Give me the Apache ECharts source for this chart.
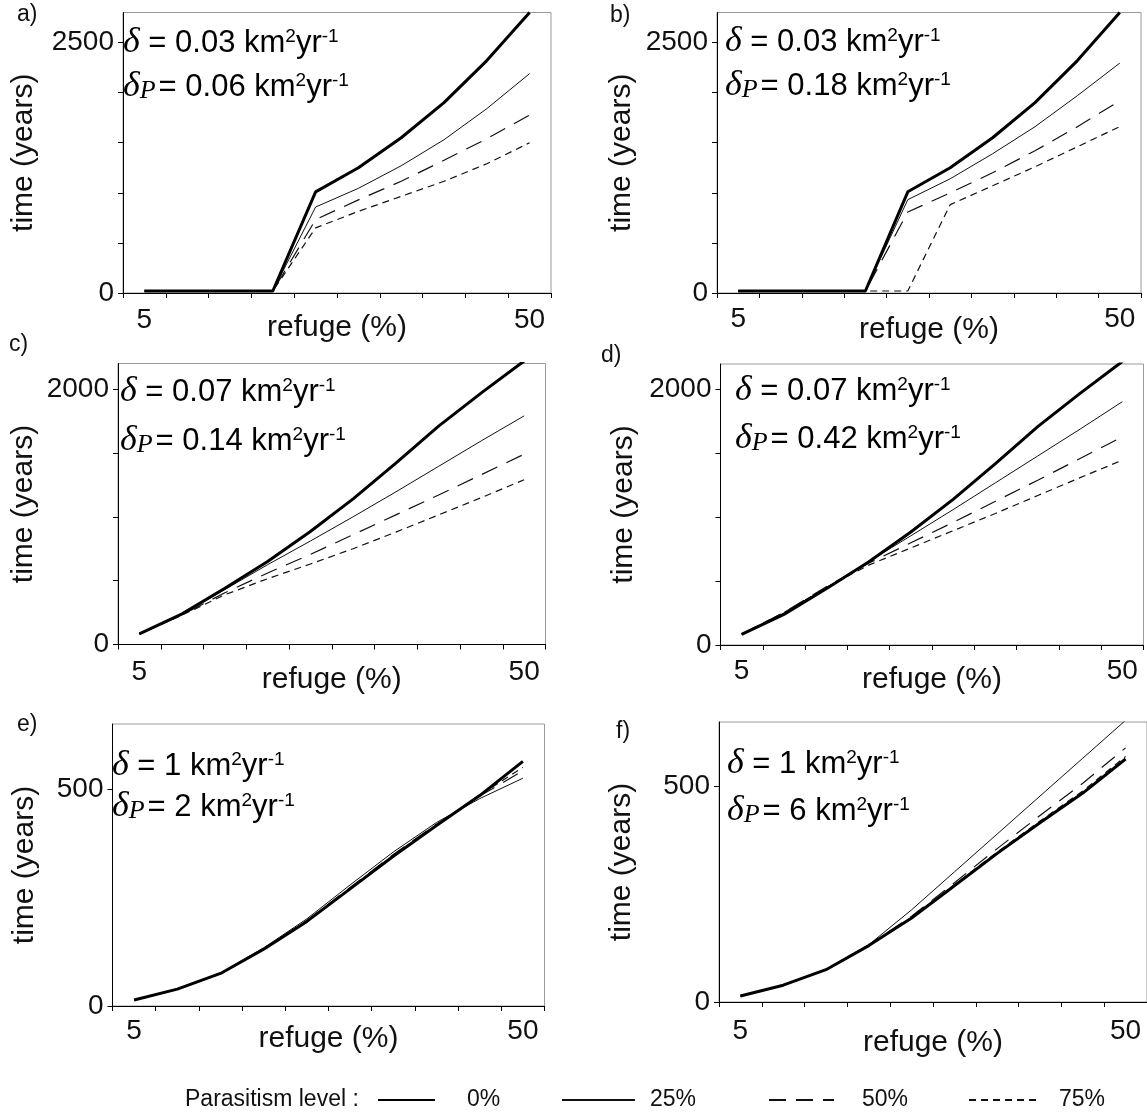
<!DOCTYPE html>
<html>
<head>
<meta charset="utf-8">
<script src="https://cdn.jsdelivr.net/npm/echarts@6/dist/echarts.min.js"></script>
<style>
  html, body { margin: 0; padding: 0; background: #fff; }
  #chart { width: 1147px; height: 1120px; }
</style>
</head>
<body>
<div id="chart"></div>
<script>
// Refuge size categories (% of habitat), shared by all six panels
const refuge = ['5', '10', '15', '20', '25', '30', '35', '40', '45', '50'];
// Parasitism levels (series names)
const levels = ['0%', '25%', '50%', '75%'];

// Panel a: delta = 0.03, deltaP = 0.06
const timeA0  = [20, 20, 20, 20, 1010, 1250, 1550, 1900, 2320, 2800];
const timeA25 = [20, 20, 20, 20, 858, 1045, 1270, 1530, 1840, 2190];
const timeA50 = [20, 20, 20, 20, 732, 930, 1115, 1325, 1540, 1776];
const timeA75 = [20, 20, 20, 20, 650, 815, 965, 1115, 1290, 1500];

// Panel b: delta = 0.03, deltaP = 0.18
const timeB0  = [20, 20, 20, 20, 1010, 1250, 1550, 1900, 2320, 2800];
const timeB25 = [20, 20, 20, 20, 932, 1140, 1390, 1660, 1970, 2295];
const timeB50 = [20, 20, 20, 20, 809, 1000, 1200, 1420, 1660, 1918];
const timeB75 = [20, 20, 20, 20, 20, 882, 1070, 1260, 1460, 1661];

// Panel c: delta = 0.07, deltaP = 0.14
const timeC0  = [83, 240, 440, 650, 885, 1140, 1420, 1710, 1970, 2220];
const timeC25 = [83, 238, 430, 625, 810, 1000, 1195, 1395, 1595, 1790];
const timeC50 = [83, 233, 405, 560, 705, 860, 1015, 1170, 1330, 1490];
const timeC75 = [83, 230, 390, 515, 630, 750, 880, 1015, 1150, 1290];

// Panel d: delta = 0.07, deltaP = 0.42
const timeD0  = [83, 240, 440, 650, 885, 1140, 1420, 1710, 1970, 2220];
const timeD25 = [86, 250, 448, 652, 855, 1060, 1270, 1480, 1690, 1905];
const timeD50 = [86, 256, 455, 640, 800, 960, 1125, 1290, 1460, 1630];
const timeD75 = [86, 254, 450, 625, 760, 895, 1030, 1170, 1310, 1447];

// Panel e: delta = 1, deltaP = 2
const timeE0  = [14, 39, 75, 131, 195, 270, 345, 416, 485, 564];
const timeE25 = [14, 39, 76, 134, 201, 279, 355, 423, 478, 525];
const timeE50 = [14, 39, 75, 132, 197, 273, 349, 419, 484, 542];
const timeE75 = [14, 39, 75, 131, 196, 271, 347, 418, 486, 550];

// Panel f: delta = 1, deltaP = 6
const timeF0  = [14, 39, 75, 131, 195, 270, 345, 416, 485, 564];
const timeF25 = [14, 39, 76, 133, 214, 302, 390, 478, 566, 654];
const timeF50 = [14, 39, 75, 132, 199, 277, 356, 433, 508, 590];
const timeF75 = [14, 39, 75, 131, 196, 272, 348, 420, 490, 570];

// Axis ranges and labelled ticks per panel
const yMax      = [2800, 2800, 2200, 2200, 650, 650];
const yTopLabel = [2500, 2500, 2000, 2000, 500, 500];
const panelTags = ['a)', 'b)', 'c)', 'd)', 'e)', 'f)'];
const deltaText  = ['0.03', '0.03', '0.07', '0.07', '1', '1'];
const deltaPText = ['0.06', '0.18', '0.14', '0.42', '2', '6'];

const panelSeries = [
  [timeA0, timeA25, timeA50, timeA75],
  [timeB0, timeB25, timeB50, timeB75],
  [timeC0, timeC25, timeC50, timeC75],
  [timeD0, timeD25, timeD50, timeD75],
  [timeE0, timeE25, timeE50, timeE75],
  [timeF0, timeF25, timeF50, timeF75]
];

// ---- layout ----
const SANS = 'Liberation Sans, Arial, Helvetica, sans-serif';
const SERIF = 'Liberation Serif, Times New Roman, serif';

const grids = [
  { left: 123, top: 12.5, width: 428, height: 280.5 },
  { left: 717, top: 12.5, width: 424, height: 280.5 },
  { left: 118, top: 363.5, width: 427.5, height: 281 },
  { left: 720.5, top: 364, width: 423, height: 281 },
  { left: 112.5, top: 724, width: 432, height: 282 },
  { left: 719, top: 722, width: 430, height: 280 }
];
const yNameGap = [84, 80, 79, 82, 73, 82];
const xNameGap = [20, 22, 20, 20, 18, 26];
const xLabelMargin = [13, 12, 14, 12, 11, 15];

// per-panel annotation anchors [x, line1 y, line2 y] and tag anchors [x, y]
const noteAnchor = [
  [123, 43, 87], [725, 42, 86], [120, 392, 441],
  [735, 391, 439], [112, 766, 807], [727, 764, 811]
];
const tagAnchor = [[17, 15], [610, 16], [9, 345], [601, 356], [17, 725], [616, 732]];

const lineStyles = {
  '0%':  { width: 3, color: '#000', type: 'solid' },
  '25%': { width: 1, color: '#111', type: 'solid' },
  '50%': { width: 1.2, color: '#111', type: [17, 10] },
  '75%': { width: 1.2, color: '#111', type: [7, 5] }
};

const xAxes = [], yAxes = [], series = [], graphics = [];

grids.forEach((g, i) => {
  Object.assign(g, { show: true, borderColor: '#9a9a9a', borderWidth: 1, containLabel: false });

  xAxes.push({
    type: 'category', gridIndex: i, data: refuge, boundaryGap: true,
    axisLine: { show: true, lineStyle: { color: '#000', width: 1 } },
    axisTick: { show: true, interval: 0, length: 5, lineStyle: { color: '#000' } },
    axisLabel: {
      interval: (idx) => idx === 0 || idx === refuge.length - 1,
      fontFamily: SANS, fontSize: 28, color: '#111', margin: xLabelMargin[i]
    },
    splitLine: { show: false },
    name: 'refuge (%)', nameLocation: 'middle', nameGap: xNameGap[i], nameMoveOverlap: false,
    nameTextStyle: { fontFamily: SANS, fontSize: 30, color: '#111' }
  });

  const ticks = [];
  for (let v = 0; v <= yTopLabel[i]; v += 500) ticks.push(v);
  yAxes.push({
    type: 'value', gridIndex: i, min: 0, max: yMax[i], interval: 500,
    axisLine: { show: true, lineStyle: { color: '#000', width: 1 } },
    axisTick: { show: true, length: 5, customValues: ticks, lineStyle: { color: '#000' } },
    axisLabel: {
      customValues: [0, yTopLabel[i]],
      formatter: (v) => String(v),
      fontFamily: SANS, fontSize: 28, color: '#111', margin: 9
    },
    splitLine: { show: false },
    name: 'time (years)', nameLocation: 'middle', nameGap: yNameGap[i], nameRotate: 90,
    nameMoveOverlap: false,
    nameTextStyle: { fontFamily: SANS, fontSize: 30, color: '#111' }
  });

  // draw 75% first so the thick 0% curve sits on top
  [3, 2, 1, 0].forEach((k) => {
    const name = levels[k];
    series.push({
      type: 'line', name, xAxisIndex: i, yAxisIndex: i,
      data: panelSeries[i][k], symbol: 'none', smooth: false,
      lineStyle: lineStyles[name], itemStyle: { color: lineStyles[name].color },
      emphasis: { disabled: true }, clip: true, z: 3 + (3 - k)
    });
  });

  // delta annotation (two lines)
  const rich = {
    d:   { fontFamily: SERIF, fontStyle: 'italic', fontSize: 36, lineHeight: 40, color: '#000' },
    s:   { fontFamily: SANS, fontSize: 31, lineHeight: 40, color: '#000' },
    sup: { fontFamily: SANS, fontSize: 19, lineHeight: 40, color: '#000', padding: [0, 0, 13, 0] },
    sub: { fontFamily: SERIF, fontStyle: 'italic', fontSize: 26, lineHeight: 40, color: '#000', padding: [9, 3, 0, 0] }
  };
  const [nx, ny1, ny2] = noteAnchor[i];
  graphics.push({
    type: 'text', x: nx, y: ny1, z: 50,
    style: {
      text: '{d|δ}{s| = ' + deltaText[i] + ' km}{sup|2}{s|yr}{sup|-1}',
      rich, align: 'left', verticalAlign: 'middle'
    }
  });
  graphics.push({
    type: 'text', x: nx, y: ny2, z: 50,
    style: {
      text: '{d|δ}{sub|P}{s|= ' + deltaPText[i] + ' km}{sup|2}{s|yr}{sup|-1}',
      rich, align: 'left', verticalAlign: 'middle'
    }
  });

  // panel tag
  graphics.push({
    type: 'text', x: tagAnchor[i][0], y: tagAnchor[i][1], z: 50,
    style: { text: panelTags[i], fontFamily: SANS, fontSize: 23, fill: '#111', align: 'left', verticalAlign: 'middle' }
  });
});

// legend caption
graphics.push({
  type: 'text', x: 185, y: 1100, z: 50,
  style: { text: 'Parasitism level :', fontFamily: SANS, fontSize: 23, fill: '#111', align: 'left', verticalAlign: 'middle' }
});

// one legend block per parasitism level so each sample sits at its own spot
const legendSpots = [
  { left: 377, width: 57, pad: 27 },
  { left: 561, width: 73, pad: 10 },
  { left: 768, width: 65, pad: 23 },
  { left: 968, width: 70, pad: 15 }
];
const legends = levels.map((name, k) => ({
  data: [name], left: legendSpots[k].left, top: 1087,
  orient: 'horizontal', selectedMode: false,
  itemWidth: legendSpots[k].width, itemHeight: 26, padding: 0,
  itemStyle: { opacity: 0 },
  textStyle: { fontFamily: SANS, fontSize: 23, color: '#111', lineHeight: 26, padding: [0, 0, 0, legendSpots[k].pad] }
}));

const chart = echarts.init(document.getElementById('chart'), null, { renderer: 'canvas' });
chart.setOption({
  animation: false,
  backgroundColor: '#fff',
  grid: grids,
  xAxis: xAxes,
  yAxis: yAxes,
  series,
  legend: legends,
  graphic: graphics
});
</script>
</body>
</html>
